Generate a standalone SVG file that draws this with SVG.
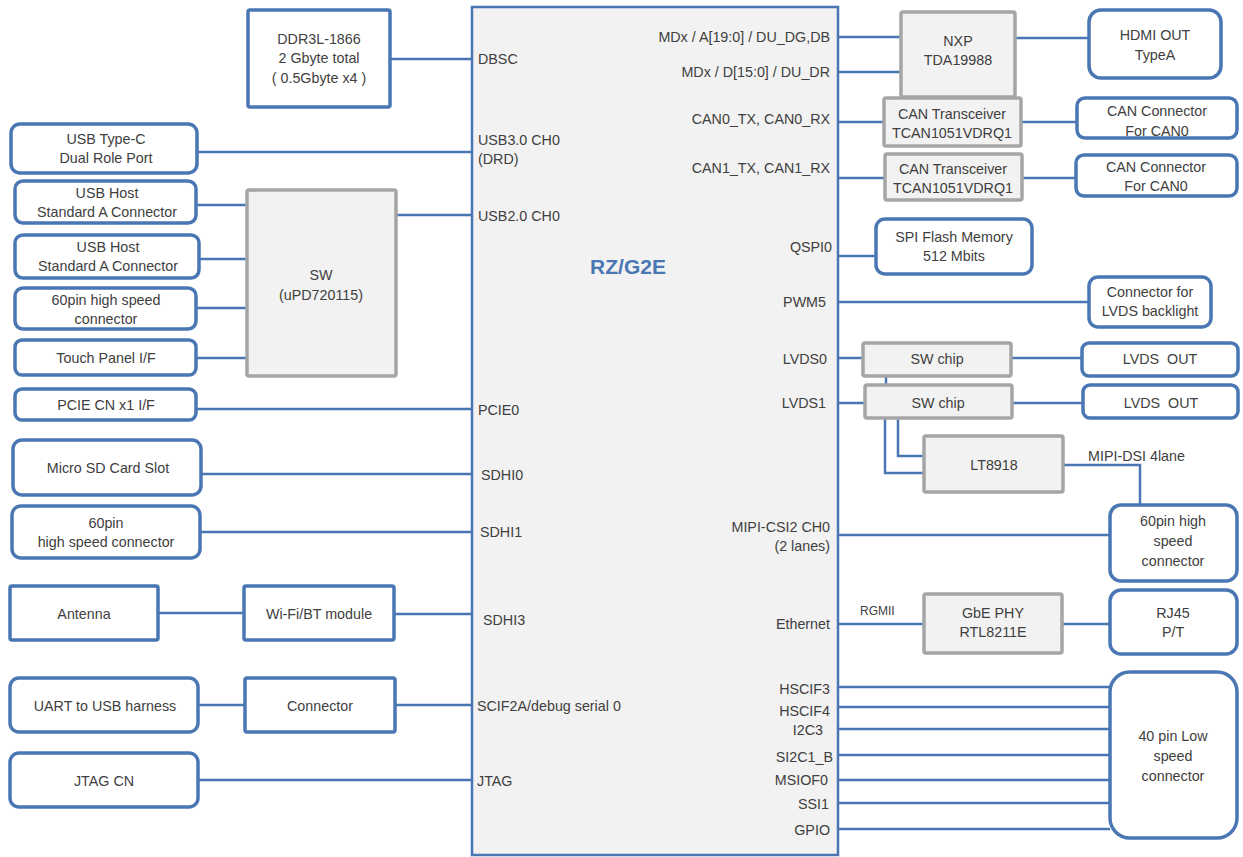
<svg xmlns="http://www.w3.org/2000/svg" width="1243" height="857" viewBox="0 0 1243 857">
<style>
text{font-family:"Liberation Sans",Arial,sans-serif;font-size:14.3px;fill:#404040;dominant-baseline:central}
.c{text-anchor:middle}
.e{text-anchor:end}
.bx{fill:#ffffff;stroke:#4a77b4;stroke-width:3.5}
.gx{fill:#f2f2f2;stroke:#a5a5a5;stroke-width:3.5}
.ln{fill:none;stroke:#4a77b4;stroke-width:2.5}
.sm{font-size:12px}
.title{font-size:21px;font-weight:bold;fill:#4a77b4}
</style>
<rect width="1243" height="857" fill="#ffffff"/>

<g id="connectors">
<path class="ln" d="M390 59H472"/>
<path class="ln" d="M197 152H472"/>
<path class="ln" d="M196 205H247"/>
<path class="ln" d="M199 259H247"/>
<path class="ln" d="M196 308H247"/>
<path class="ln" d="M196 358H247"/>
<path class="ln" d="M396 215H472"/>
<path class="ln" d="M196 409H472"/>
<path class="ln" d="M201 474H472"/>
<path class="ln" d="M200 532H472"/>
<path class="ln" d="M158 613H244"/>
<path class="ln" d="M394 614H472"/>
<path class="ln" d="M198 705H245"/>
<path class="ln" d="M395 705H472"/>
<path class="ln" d="M198 780H472"/>
<path class="ln" d="M838 37H901"/>
<path class="ln" d="M838 72H901"/>
<path class="ln" d="M1015 38H1089"/>
<path class="ln" d="M838 122H884"/>
<path class="ln" d="M1021 122H1077"/>
<path class="ln" d="M838 178H885"/>
<path class="ln" d="M1022 178H1076"/>
<path class="ln" d="M838 256H876"/>
<path class="ln" d="M838 302H1089"/>
<path class="ln" d="M838 358H863"/>
<path class="ln" d="M1011 358H1082"/>
<path class="ln" d="M838 403H865"/>
<path class="ln" d="M1012 403H1083"/>
<path class="ln" d="M886 376V385"/>
<path class="ln" d="M898 418V456H924"/>
<path class="ln" d="M885 418V473H924"/>
<path class="ln" d="M1063 465H1140V505"/>
<path class="ln" d="M838 535H1110"/>
<path class="ln" d="M838 624H924"/>
<path class="ln" d="M1062 624H1110"/>
<path class="ln" d="M836 687H1114"/>
<path class="ln" d="M836 707H1110"/>
<path class="ln" d="M838 729H1110"/>
<path class="ln" d="M838 755H1110"/>
<path class="ln" d="M838 780H1110"/>
<path class="ln" d="M836 803H1110"/>
<path class="ln" d="M838 829H1110"/>
</g>

<g id="chip">
<rect x="472" y="7" width="366" height="848" fill="#f2f2f2" stroke="#4a77b4" stroke-width="2.5"/>
<text class="title c" x="628" y="266">RZ/G2E</text>
<text x="478" y="59">DBSC</text>
<text x="478" y="140">USB3.0 CH0</text>
<text x="478" y="159">(DRD)</text>
<text x="478" y="216">USB2.0 CH0</text>
<text x="478" y="410">PCIE0</text>
<text x="481" y="475">SDHI0</text>
<text x="480" y="532">SDHI1</text>
<text x="483" y="620">SDHI3</text>
<text x="477" y="706">SCIF2A/debug serial 0</text>
<text x="477" y="781">JTAG</text>
<text class="e" x="830" y="37">MDx / A[19:0] / DU_DG,DB</text>
<text class="e" x="830" y="72">MDx / D[15:0] / DU_DR</text>
<text class="e" x="830" y="119">CAN0_TX, CAN0_RX</text>
<text class="e" x="830" y="168">CAN1_TX, CAN1_RX</text>
<text class="e" x="832" y="247">QSPI0</text>
<text class="e" x="826" y="302">PWM5</text>
<text class="e" x="827" y="359">LVDS0</text>
<text class="e" x="826" y="403">LVDS1</text>
<text class="e" x="830" y="527">MIPI-CSI2 CH0</text>
<text class="e" x="830" y="546">(2 lanes)</text>
<text class="e" x="830" y="624">Ethernet</text>
<text class="e" x="830" y="689">HSCIF3</text>
<text class="e" x="830" y="711">HSCIF4</text>
<text class="e" x="823" y="730">I2C3</text>
<text class="e" x="833" y="757">SI2C1_B</text>
<text class="e" x="828" y="780">MSIOF0</text>
<text class="e" x="829" y="804">SSI1</text>
<text class="e" x="830" y="830">GPIO</text>
</g>

<g id="ddr">
<rect class="bx" x="248" y="10" width="142" height="97" rx="2"/>
<text class="c" x="319" y="39">DDR3L-1866</text>
<text class="c" x="319" y="58">2 Gbyte total</text>
<text class="c" x="319" y="78">( 0.5Gbyte x4 )</text>
</g>
<g id="usbc">
<rect class="bx" x="11" y="124" width="186" height="49" rx="9"/>
<text class="c" x="106" y="139">USB Type-C</text>
<text class="c" x="106" y="158">Dual Role Port</text>
</g>
<g id="usbhost1">
<rect class="bx" x="15" y="181" width="181" height="42" rx="8"/>
<text class="c" x="107" y="193">USB Host</text>
<text class="c" x="107" y="212">Standard A Connector</text>
</g>
<g id="usbhost2">
<rect class="bx" x="15" y="235" width="184" height="43" rx="8"/>
<text class="c" x="108" y="247">USB Host</text>
<text class="c" x="108" y="266">Standard A Connector</text>
</g>
<g id="hs60a">
<rect class="bx" x="15" y="288" width="181" height="41" rx="8"/>
<text class="c" x="106" y="300">60pin high speed</text>
<text class="c" x="106" y="319">connector</text>
</g>
<g id="touch">
<rect class="bx" x="15" y="340" width="181" height="35" rx="7"/>
<text class="c" x="106" y="358">Touch Panel I/F</text>
</g>
<g id="sw">
<rect class="gx" x="247" y="190" width="149" height="186" rx="2"/>
<text class="c" x="321" y="275">SW</text>
<text class="c" x="321" y="295">(uPD720115)</text>
</g>
<g id="pcie">
<rect class="bx" x="15" y="389" width="181" height="31" rx="7"/>
<text class="c" x="106" y="405">PCIE CN x1 I/F</text>
</g>
<g id="microsd">
<rect class="bx" x="13" y="440" width="188" height="55" rx="9"/>
<text class="c" x="108" y="468">Micro SD Card Slot</text>
</g>
<g id="hs60b">
<rect class="bx" x="12" y="506" width="188" height="52" rx="9"/>
<text class="c" x="106" y="523">60pin</text>
<text class="c" x="106" y="542">high speed connector</text>
</g>
<g id="antenna">
<rect class="bx" x="10" y="586" width="148" height="54" rx="2"/>
<text class="c" x="84" y="614">Antenna</text>
</g>
<g id="wifi">
<rect class="bx" x="244" y="586" width="150" height="54" rx="2"/>
<text class="c" x="319" y="614">Wi-Fi/BT module</text>
</g>
<g id="uart">
<rect class="bx" x="10" y="678" width="188" height="54" rx="9"/>
<text class="c" x="105" y="706">UART to USB harness</text>
</g>
<g id="connector">
<rect class="bx" x="245" y="678" width="150" height="54" rx="2"/>
<text class="c" x="320" y="706">Connector</text>
</g>
<g id="jtag">
<rect class="bx" x="10" y="753" width="188" height="54" rx="9"/>
<text class="c" x="104" y="781">JTAG CN</text>
</g>

<g id="nxp">
<rect class="gx" x="901" y="12" width="114" height="85" rx="2"/>
<text class="c" x="958" y="41">NXP</text>
<text class="c" x="958" y="60">TDA19988</text>
</g>
<g id="hdmi">
<rect class="bx" x="1089" y="10" width="132" height="68" rx="12"/>
<text class="c" x="1155" y="35">HDMI OUT</text>
<text class="c" x="1155" y="55">TypeA</text>
</g>
<g id="cant0">
<rect class="gx" x="884" y="98" width="137" height="48" rx="2"/>
<text class="c" x="952" y="114">CAN Transceiver</text>
<text class="c" x="952" y="133">TCAN1051VDRQ1</text>
</g>
<g id="canc0">
<rect class="bx" x="1077" y="98" width="160" height="40" rx="8"/>
<text class="c" x="1157" y="111">CAN Connector</text>
<text class="c" x="1157" y="131">For CAN0</text>
</g>
<g id="cant1">
<rect class="gx" x="885" y="154" width="137" height="46" rx="2"/>
<text class="c" x="953" y="169">CAN Transceiver</text>
<text class="c" x="953" y="188">TCAN1051VDRQ1</text>
</g>
<g id="canc1">
<rect class="bx" x="1076" y="155" width="161" height="41" rx="8"/>
<text class="c" x="1156" y="167">CAN Connector</text>
<text class="c" x="1156" y="186">For CAN0</text>
</g>
<g id="spiflash">
<rect class="bx" x="876" y="219" width="156" height="55" rx="9"/>
<text class="c" x="954" y="237">SPI Flash Memory</text>
<text class="c" x="954" y="256">512 Mbits</text>
</g>
<g id="backlight">
<rect class="bx" x="1089" y="277" width="122" height="50" rx="9"/>
<text class="c" x="1150" y="292">Connector for</text>
<text class="c" x="1150" y="311">LVDS backlight</text>
</g>
<g id="swchip0">
<rect class="gx" x="863" y="343" width="148" height="33" rx="2"/>
<text class="c" x="937" y="359">SW chip</text>
</g>
<g id="lvdsout0">
<rect class="bx" x="1082" y="343" width="156" height="33" rx="7"/>
<text class="c" x="1160" y="359">LVDS&#160; OUT</text>
</g>
<g id="swchip1">
<rect class="gx" x="865" y="385" width="147" height="33" rx="2"/>
<text class="c" x="938" y="403">SW chip</text>
</g>
<g id="lvdsout1">
<rect class="bx" x="1083" y="385" width="155" height="33" rx="7"/>
<text class="c" x="1161" y="403">LVDS&#160; OUT</text>
</g>
<g id="lt8918">
<rect class="gx" x="924" y="436" width="139" height="56" rx="2"/>
<text class="c" x="994" y="465">LT8918</text>
<text x="1088" y="456">MIPI-DSI 4lane</text>
</g>
<g id="hs60c">
<rect class="bx" x="1110" y="505" width="127" height="76" rx="11"/>
<text class="c" x="1173" y="521">60pin high</text>
<text class="c" x="1173" y="541">speed</text>
<text class="c" x="1173" y="561">connector</text>
</g>
<g id="gbephy">
<text class="sm" x="860" y="611">RGMII</text>
<rect class="gx" x="924" y="594" width="138" height="59" rx="2"/>
<text class="c" x="993" y="613">GbE PHY</text>
<text class="c" x="993" y="632">RTL8211E</text>
</g>
<g id="rj45">
<rect class="bx" x="1110" y="590" width="127" height="64" rx="11"/>
<text class="c" x="1173" y="613">RJ45</text>
<text class="c" x="1173" y="632">P/T</text>
</g>
<g id="lowspeed40">
<rect class="bx" x="1110" y="672" width="127" height="166" rx="20"/>
<text class="c" x="1173" y="736">40 pin Low</text>
<text class="c" x="1173" y="756">speed</text>
<text class="c" x="1173" y="776">connector</text>
</g>
</svg>
